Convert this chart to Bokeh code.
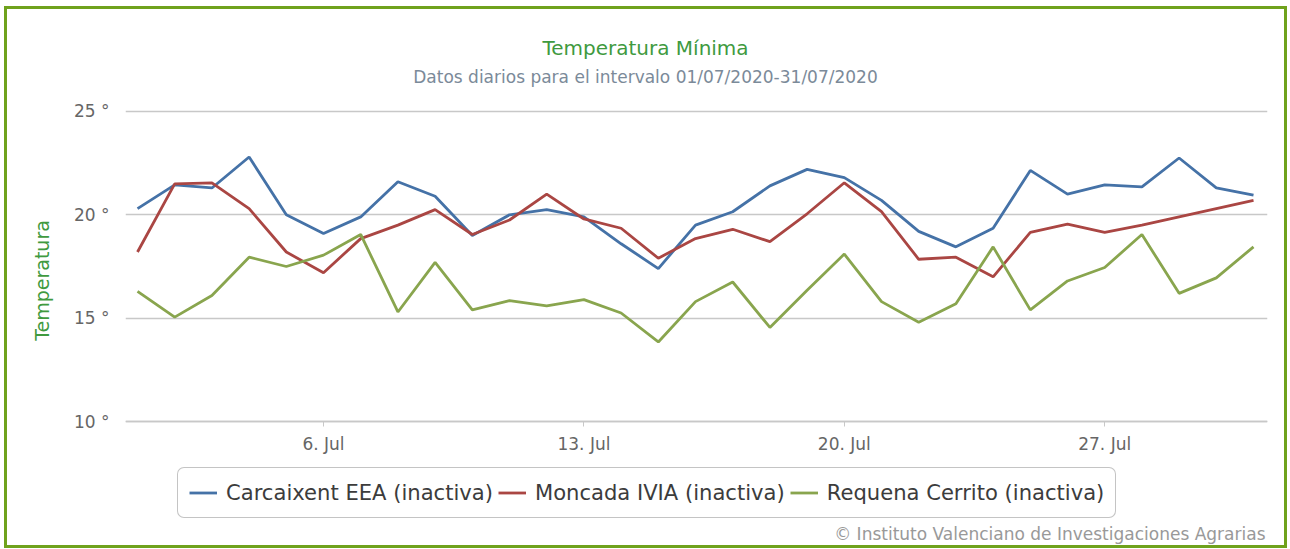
from bokeh.plotting import figure
from bokeh.models import Legend, LegendItem, FixedTicker, Range1d, Label
from bokeh.embed import file_html
from bokeh.resources import INLINE

days = list(range(1, 32))
carcaixent = [20.3, 21.45, 21.3, 22.8, 20.0, 19.1, 19.9, 21.6, 20.9, 19.0,
              20.0, 20.25, 19.9, 18.6, 17.4, 19.5, 20.15, 21.4, 22.2, 21.8,
              20.7, 19.2, 18.45, 19.35, 22.15, 21.0, 21.45, 21.35, 22.75, 21.3, 20.95]
moncada = [18.2, 21.5, 21.55, 20.3, 18.2, 17.2, 18.85, 19.5, 20.25, 19.05,
           19.75, 21.0, 19.8, 19.35, 17.9, 18.85, 19.3, 18.7, 20.05, 21.55,
           20.15, 17.85, 17.95, 17.0, 19.15, 19.55, 19.15, 19.5, 19.9, 20.3, 20.7]
requena = [16.3, 15.05, 16.1, 17.95, 17.5, 18.05, 19.05, 15.3, 17.7, 15.4,
           15.85, 15.6, 15.9, 15.25, 13.85, 15.8, 16.75, 14.55, 16.35, 18.1,
           15.8, 14.8, 15.7, 18.45, 15.4, 16.8, 17.45, 19.05, 16.2, 16.95, 18.45]
series_names = ["Carcaixent EEA (inactiva)", "Moncada IVIA (inactiva)", "Requena Cerrito (inactiva)"]
series_colors = ["#4572A7", "#AA4643", "#89A54E"]
x_ticks = [6, 13, 20, 27]
x_tick_labels = ["6. Jul", "13. Jul", "20. Jul", "27. Jul"]
y_ticks = [10, 15, 20, 25]
y_tick_labels = ["10 °", "15 °", "20 °", "25 °"]
title_text = "Temperatura Mínima"
subtitle_text = "Datos diarios para el intervalo 01/07/2020-31/07/2020"
credits_text = "© Instituto Valenciano de Investigaciones Agrarias"
y_title = "Temperatura"

FONT = "DejaVu Sans"

# frame spans the full canvas height; the x axis sits at y = 10 (fixed_location)
p = figure(width=1283, height=542, output_backend="svg", toolbar_location=None,
           x_range=Range1d(0.677, 31.376), y_range=Range1d(3.71, 29.935),
           min_border_left=118, min_border_right=23, min_border_top=0, min_border_bottom=0)
p.styles = {"border": "3px solid #6fa21c", "margin-left": "4px", "margin-top": "6px"}
p.outline_line_color = None
p.background_fill_color = "white"
p.border_fill_color = "white"

p.xgrid.grid_line_color = None
p.ygrid.grid_line_color = "#c8c8c8"
p.ygrid.grid_line_width = 1.5

p.xaxis.fixed_location = y_ticks[0]
p.xaxis.ticker = FixedTicker(ticks=x_ticks)
p.xaxis.major_label_overrides = {t: l for t, l in zip(x_ticks, x_tick_labels)}
p.xaxis.axis_line_color = "#c8c8c8"
p.xaxis.axis_line_width = 1.5
p.xaxis.major_tick_line_color = "#c8c8c8"
p.xaxis.major_tick_in = 0
p.xaxis.major_tick_out = 5
p.xaxis.minor_tick_line_color = None
p.xaxis.major_label_standoff = 7
p.xaxis.major_label_text_font = FONT
p.xaxis.major_label_text_font_size = "17px"
p.xaxis.major_label_text_color = "#666666"

p.yaxis.ticker = FixedTicker(ticks=y_ticks)
p.yaxis.major_label_overrides = {t: l for t, l in zip(y_ticks, y_tick_labels)}
p.yaxis.axis_line_color = None
p.yaxis.major_tick_line_color = None
p.yaxis.minor_tick_line_color = None
p.yaxis.major_label_standoff = 10
p.yaxis.major_label_text_font = FONT
p.yaxis.major_label_text_font_size = "17px"
p.yaxis.major_label_text_color = "#666666"
p.yaxis.axis_label = y_title
p.yaxis.axis_label_text_font = FONT
p.yaxis.axis_label_text_font_size = "19px"
p.yaxis.axis_label_text_font_style = "normal"
p.yaxis.axis_label_text_color = "#3f9a3f"
p.yaxis.axis_label_standoff = 18

items = []
for name, vals, col in zip(series_names, [carcaixent, moncada, requena], series_colors):
    r = p.line(days, vals, line_color=col, line_width=2.8)
    items.append(LegendItem(label=name, renderers=[r]))

legend = Legend(items=items, orientation="horizontal", location=(52, 33),
                label_text_font=FONT, label_text_font_size="21.1px",
                label_text_color="#3c3c3c", glyph_width=28, glyph_height=27,
                label_standoff=9, spacing=5, padding=11, margin=0,
                border_line_color="#8a8a8a", border_line_width=1.5,
                background_fill_color="white", background_fill_alpha=1.0)
try:
    legend.border_radius = 7
except Exception:
    pass
p.add_layout(legend, "center")

p.add_layout(Label(x=520, y=504, x_units="screen", y_units="screen", text=title_text,
                   text_align="center", text_baseline="middle", text_font=FONT,
                   text_font_size="20px", text_color="#3f9a3f"))
p.add_layout(Label(x=520, y=475, x_units="screen", y_units="screen", text=subtitle_text,
                   text_align="center", text_baseline="middle", text_font=FONT,
                   text_font_size="17px", text_color="#7b8a99"))
p.add_layout(Label(x=1140, y=18, x_units="screen", y_units="screen", text=credits_text,
                   text_align="right", text_baseline="middle", text_font=FONT,
                   text_font_size="17px", text_color="#999999"))

open("out.html", "w").write(file_html(p, INLINE))
